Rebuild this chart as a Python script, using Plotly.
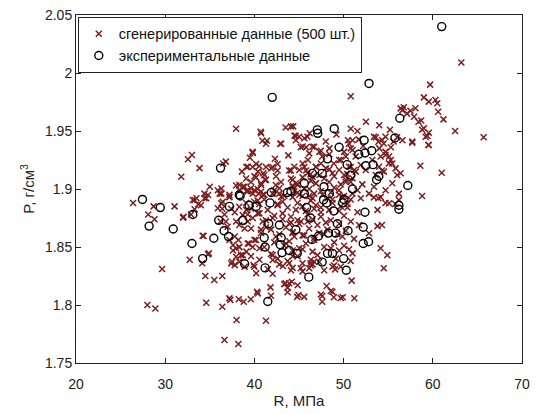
import plotly.graph_objects as go

# Generated data (500 points), R in MPa, P in g/cm3
gen_R = [
    26.4, 28.1, 28.7, 28.8, 31.05, 32.05, 32.9, 33.3, 33.3, 34.0,
    34.6, 32.75, 34.15, 34.9, 34.3, 29.65, 28.0, 28.9, 34.5, 35.5,
    36.4, 34.6, 36.4, 37.3, 38.8, 39.6, 40.3, 41.8, 40.2, 38.0,
    41.3, 36.65, 38.2, 39.9, 37.5, 37.6, 38.3, 38.5, 38.9, 37.8,
    38.2, 42.05, 42.05, 43.5, 44.2, 44.8, 43.2, 43.9, 39.4, 39.8,
    36.2, 35.9, 36.45, 37.2, 36.1, 33.1, 33.7, 34.4, 34.8, 35.0,
    32.0, 34.2, 34.8, 37.2, 38.25, 31.8, 32.55, 33.0, 33.85, 36.8,
    36.5, 37.95, 39.1, 40.75, 40.9, 41.4, 43.0, 43.5, 44.1, 44.65,
    63.2, 50.8, 59.7, 59.0, 59.55, 60.3, 60.5, 60.6, 61.2, 62.5,
    65.7, 59.5, 59.2, 58.8, 59.55, 58.7, 57.9, 58.05, 56.75, 56.6,
    57.1, 57.5, 57.7, 58.6, 61.0, 58.8, 56.2, 52.5, 54.0, 55.2,
    50.8, 51.55, 44.35, 45.0, 45.95, 46.5, 44.65, 50.5, 51.7, 53.4,
    53.9, 54.5, 54.7, 56.0, 56.6, 54.7, 54.15, 55.1, 55.45, 47.3,
    48.4, 47.6, 46.15, 45.4, 49.5, 50.25, 51.0, 51.35, 56.2, 55.8,
    53.8, 54.7, 55.1, 53.9, 53.4, 53.8, 54.3, 52.85, 54.15, 54.9,
    54.5, 51.0, 50.9, 51.2, 49.9, 48.9, 48.75, 48.1, 47.6, 47.6,
    44.95, 43.9, 44.1, 45.2, 46.15, 46.3, 46.7, 48.75, 49.05, 40.7,
    41.3, 42.9, 44.5, 45.6, 45.2, 45.8, 46.7, 39.8, 47.45, 48.4,
    50.05, 50.8, 39.25, 39.8, 40.55, 41.3, 41.9, 42.6, 44.1, 45.6,
    45.8, 46.3, 46.9, 47.3, 48.4, 48.9, 49.7, 50.4, 50.8, 40.0,
    41.1, 40.4, 56.4, 58.4, 59.0, 59.4, 59.55, 53.6, 54.3, 55.6,
    57.7, 51.0, 50.6, 54.0, 55.3, 54.7, 55.3, 56.0, 53.6, 54.3,
    51.2, 51.0, 39.8, 40.2, 41.0, 41.2, 42.05, 42.6, 43.9, 44.3,
    44.65, 38.3, 38.9, 39.25, 39.6, 40.0, 40.5, 40.75, 40.75, 41.1,
    42.4, 42.8, 43.0, 42.05, 44.3, 44.85, 37.2, 36.3, 34.4, 33.5,
    39.07, 39.62, 40.18, 40.74, 41.3, 42.42, 42.98, 44.09, 44.84, 45.4, 46.33, 46.89, 47.82, 48.38, 48.94, 49.68, 50.24, 50.8,
    39.25, 39.81, 40.37, 40.93, 42.23, 42.79, 43.35, 44.47, 45.03, 46.14, 46.7, 48.56, 49.49, 50.05,
    39.99, 40.56, 41.11, 42.6, 43.16, 43.72, 44.84, 45.4, 46.33, 46.89, 47.45, 48.75, 49.68, 50.43,
    39.25, 39.81, 40.37, 41.3, 42.23, 43.16, 44.09, 45.21, 45.96, 46.52, 47.45, 48.56, 50.05,
    39.62, 40.74, 41.86, 42.79, 43.54, 44.28, 45.4, 46.14, 47.26, 48.19, 49.31, 50.24,
    39.25, 40.0, 41.11, 42.23, 43.35, 43.91, 45.03, 45.77, 46.7, 47.82, 48.94, 50.05,
    39.62, 40.56, 42.05, 42.6, 43.72, 44.84, 46.33, 47.07, 49.12, 50.8,
    39.99, 41.49, 42.79, 44.28, 45.4, 46.33, 47.82, 49.68,
    43.35, 43.72, 44.84,
    40.37, 41.86, 43.72, 45.58, 47.45, 48.56, 49.68,
    35.9, 36.3, 37.2, 37.95, 38.3, 38.7, 39.1, 36.3, 36.4, 36.65,
    37.4, 37.8, 38.3, 38.7, 39.1, 36.8, 37.0, 37.95, 38.3, 38.9, 39.25,
    37.2, 37.6, 37.95, 38.3, 38.7, 39.1, 37.95, 38.3, 37.4, 37.8,
    44.47, 45.03, 45.4, 45.96, 46.52, 46.89, 47.45, 48.01, 48.75, 49.5, 50.06,
    50.61, 51.36, 51.92, 52.48, 53.22, 53.97, 54.52, 55.08, 55.83, 56.39,
    44.28, 44.84, 45.59, 46.14, 46.89, 47.45, 48.19, 48.94, 49.5,
    50.24, 50.8, 51.55, 52.1, 52.85, 53.41, 54.15, 54.71, 55.46,
    44.28, 45.4, 46.52, 47.63, 48.75, 49.87, 50.99, 51.92,
    44.65, 45.77, 46.7, 47.45, 48.38, 49.5, 50.43, 51.55,
    44.1, 45.03, 45.96, 47.07, 48.01, 49.5, 50.8, 51.73,
    44.47, 45.59, 46.7, 47.82, 49.87, 51.17,
    44.28, 45.4, 46.52, 48.56, 49.5, 50.61,
    45.4, 46.52, 47.26, 48.94,
    39.07, 39.62, 40.37, 40.56, 40.93, 41.49, 42.05, 42.6, 43.16, 43.91,
    44.28, 44.84, 40.18, 40.74, 41.3, 42.42, 43.54, 44.28, 41.86, 40.56,
    38.6, 39.5, 42.3, 43.8, 46.0, 48.0, 49.2, 52.2, 46.2,
]
gen_P = [
    1.888, 1.878, 1.885, 1.874, 1.885, 1.876, 1.878, 1.8825, 1.8905, 1.886,
    1.892, 1.839, 1.836, 1.8445, 1.8595, 1.831, 1.800, 1.797, 1.825, 1.8216,
    1.825, 1.802, 1.7985, 1.8043, 1.8028, 1.805, 1.8115, 1.8152, 1.8273, 1.787,
    1.7865, 1.7698, 1.7664, 1.8345, 1.8373, 1.847, 1.850, 1.843, 1.833, 1.859,
    1.856, 1.8388, 1.827, 1.8187, 1.820, 1.807, 1.8336, 1.836, 1.853, 1.850,
    1.872, 1.8834, 1.889, 1.8934, 1.896, 1.8905, 1.8868, 1.892, 1.8948, 1.902,
    1.8753, 1.8597, 1.8437, 1.8057, 1.805, 1.9106, 1.9256, 1.9293, 1.918, 1.9236,
    1.922, 1.952, 1.919, 1.948, 1.9416, 1.9416, 1.939, 1.953, 1.954, 1.9457,
    2.009, 1.980, 1.990, 1.979, 1.9753, 1.9767, 1.9739, 1.9666, 1.960, 1.950,
    1.9446, 1.938, 1.945, 1.951, 1.9485, 1.959, 1.9623, 1.9696, 1.9704, 1.968,
    1.965, 1.9675, 1.940, 1.920, 1.914, 1.894, 1.896, 1.958, 1.955, 1.951,
    1.952, 1.950, 1.954, 1.945, 1.945, 1.9365, 1.942, 1.942, 1.9428, 1.945,
    1.9408, 1.9393, 1.945, 1.9446, 1.942, 1.932, 1.928, 1.928, 1.922, 1.932,
    1.935, 1.928, 1.9307, 1.9366, 1.925, 1.928, 1.9336, 1.928, 1.8905, 1.887,
    1.882, 1.888, 1.8877, 1.892, 1.8928, 1.868, 1.869, 1.8618, 1.8489, 1.843,
    1.8316, 1.8445, 1.821, 1.8058, 1.8066, 1.8066, 1.8115, 1.8164, 1.8078, 1.8028,
    1.8086, 1.8187, 1.830, 1.8316, 1.8316, 1.836, 1.8373, 1.833, 1.8307, 1.9494,
    1.939, 1.939, 1.946, 1.9437, 1.936, 1.936, 1.9365, 1.932, 1.933, 1.930,
    1.932, 1.935, 1.9192, 1.919, 1.9198, 1.919, 1.9178, 1.916, 1.916, 1.919,
    1.916, 1.913, 1.919, 1.912, 1.917, 1.922, 1.925, 1.913, 1.919, 1.911,
    1.912, 1.915, 1.9695, 1.958, 1.9523, 1.9457, 1.938, 1.9445, 1.9422, 1.941,
    1.941, 1.942, 1.939, 1.935, 1.936, 1.9293, 1.925, 1.912, 1.912, 1.916,
    1.9164, 1.9092, 1.931, 1.9216, 1.9135, 1.9078, 1.919, 1.9216, 1.916, 1.908,
    1.905, 1.9034, 1.902, 1.899, 1.9006, 1.899, 1.896, 1.9034, 1.8977, 1.895,
    1.9034, 1.9006, 1.8934, 1.896, 1.902, 1.9034, 1.895, 1.896, 1.896, 1.892,
    1.909, 1.906, 1.910, 1.905, 1.908, 1.911, 1.906, 1.909, 1.904, 1.910, 1.907, 1.905, 1.909, 1.906, 1.911, 1.904, 1.908, 1.906,
    1.898, 1.896, 1.900, 1.895, 1.899, 1.896, 1.894, 1.898, 1.895, 1.900, 1.896, 1.897, 1.899, 1.894,
    1.889, 1.887, 1.891, 1.886, 1.889, 1.884, 1.888, 1.885, 1.890, 1.886, 1.884, 1.888, 1.885, 1.887,
    1.878, 1.875, 1.879, 1.873, 1.877, 1.874, 1.876, 1.872, 1.878, 1.874, 1.876, 1.873, 1.877,
    1.866, 1.862, 1.865, 1.861, 1.867, 1.863, 1.860, 1.866, 1.862, 1.865, 1.861, 1.864,
    1.853, 1.856, 1.850, 1.854, 1.851, 1.855, 1.849, 1.853, 1.856, 1.850, 1.854, 1.851,
    1.842, 1.839, 1.843, 1.840, 1.838, 1.842, 1.839, 1.843, 1.840, 1.838,
    1.833, 1.831, 1.835, 1.832, 1.829, 1.834, 1.830, 1.833,
    1.818, 1.815, 1.817,
    1.810, 1.808, 1.811, 1.807, 1.809, 1.812, 1.806,
    1.899, 1.9005, 1.893, 1.903, 1.899, 1.902, 1.898, 1.8876, 1.883, 1.878,
    1.883, 1.880, 1.8847, 1.8775, 1.882, 1.872, 1.8675, 1.872, 1.869, 1.866, 1.872,
    1.856, 1.8517, 1.849, 1.850, 1.843, 1.846, 1.8416, 1.8373, 1.8358, 1.8344,
    1.9192, 1.9164, 1.922, 1.9135, 1.9106, 1.9192, 1.922, 1.9178, 1.9135, 1.9164, 1.912,
    1.9192, 1.915, 1.9207, 1.9164, 1.925, 1.9192, 1.915, 1.9221, 1.9178, 1.9135,
    1.903, 1.897, 1.900, 1.894, 1.905, 1.898, 1.892, 1.901, 1.895,
    1.906, 1.891, 1.899, 1.904, 1.896, 1.902, 1.893, 1.899, 1.905,
    1.893, 1.894, 1.892, 1.895, 1.891, 1.893, 1.896, 1.892,
    1.882, 1.881, 1.883, 1.880, 1.882, 1.881, 1.884, 1.880,
    1.871, 1.870, 1.872, 1.869, 1.871, 1.870, 1.872, 1.869,
    1.859, 1.860, 1.858, 1.861, 1.859, 1.857,
    1.847, 1.848, 1.846, 1.849, 1.847, 1.848,
    1.836, 1.835, 1.837, 1.834,
    1.888, 1.883, 1.890, 1.879, 1.872, 1.882, 1.875, 1.887, 1.879, 1.870,
    1.862, 1.873, 1.856, 1.865, 1.867, 1.859, 1.853, 1.842, 1.844, 1.849,
    1.915, 1.927, 1.926, 1.929, 1.925, 1.941, 1.947, 1.937, 1.948,
]

# Experimental data
exp_R = [
    61.0, 52.85, 42.0, 47.05, 47.1, 48.95, 49.5, 56.3, 52.3, 55.75,
    51.7, 52.4, 53.15, 48.2, 52.5, 53.3, 50.4, 50.8, 47.6, 46.5,
    53.95, 53.7, 57.2, 45.6, 47.8, 48.4, 51.0, 44.1, 45.6, 36.2,
    38.3, 41.9, 43.7, 27.45, 29.45, 28.2, 30.9, 33.0, 33.1, 34.2,
    35.45, 36.0, 36.6, 37.1, 37.2, 38.9, 38.7, 39.4, 40.2, 41.1,
    41.2, 41.2, 41.5, 41.6, 41.75, 42.8, 43.0, 43.1, 43.9, 44.65,
    44.8, 45.85, 46.3, 46.45, 47.2, 46.1, 47.6, 48.1, 48.2, 48.3,
    48.75, 49.1, 49.3, 49.9, 50.0, 50.3, 50.5, 52.2, 52.4, 52.2,
    52.8, 56.2, 56.2, 38.4, 47.75, 48.9, 50.05, 42.9,
]
exp_P = [
    2.040, 1.991, 1.979, 1.951, 1.948, 1.952, 1.936, 1.961, 1.942, 1.944,
    1.930, 1.931, 1.933, 1.926, 1.920, 1.921, 1.921, 1.912, 1.9135, 1.9135,
    1.911, 1.908, 1.903, 1.905, 1.902, 1.896, 1.900, 1.898, 1.896, 1.918,
    1.895, 1.897, 1.897, 1.891, 1.884, 1.868, 1.8655, 1.853, 1.878, 1.840,
    1.8575, 1.873, 1.864, 1.859, 1.885, 1.8355, 1.873, 1.886, 1.885, 1.858,
    1.850, 1.832, 1.803, 1.870, 1.888, 1.869, 1.858, 1.845, 1.847, 1.865,
    1.8445, 1.884, 1.875, 1.8565, 1.8595, 1.824, 1.837, 1.888, 1.8445, 1.862,
    1.8445, 1.862, 1.870, 1.888, 1.840, 1.830, 1.864, 1.867, 1.880, 1.853,
    1.8545, 1.886, 1.8825, 1.894, 1.8905, 1.881, 1.891, 1.852,
]

x_ticks = [20, 30, 40, 50, 60, 70]
y_ticks = [1.75, 1.8, 1.85, 1.9, 1.95, 2.0, 2.05]
y_tick_text = ["1.75", "1.8", "1.85", "1.9", "1.95", "2", "2.05"]

FONT = "Liberation Sans, Arial, sans-serif"

fig = go.Figure()
fig.add_trace(go.Scatter(
    x=gen_R, y=gen_P, mode="markers",
    name="сгенерированные данные (500 шт.)",
    marker=dict(symbol="x-thin-open", size=6, color="#7a1e1e",
                line=dict(color="#7a1e1e", width=1.5)),
))
fig.add_trace(go.Scatter(
    x=exp_R, y=exp_P, mode="markers",
    name="экспериментальные данные",
    marker=dict(symbol="circle-open", size=8, color="black",
                line=dict(color="black", width=1.4)),
))

axis_common = dict(
    showline=True, linecolor="#222", linewidth=1, mirror="ticks",
    ticks="inside", ticklen=5, tickcolor="#222", showgrid=False, zeroline=False,
    automargin=False,
    tickfont=dict(family=FONT, size=14, color="#222"),
)
fig.update_xaxes(range=[20, 70], tickvals=x_ticks, ticklabelstandoff=8,
                 title=dict(text="R, МПа", standoff=4,
                            font=dict(family=FONT, size=15, color="#222")),
                 **axis_common)
fig.update_yaxes(range=[1.75, 2.05], tickvals=y_ticks, ticktext=y_tick_text,
                 title=dict(text="P, г/см<sup>3</sup>", standoff=6,
                            font=dict(family=FONT, size=15, color="#222")),
                 **axis_common)

fig.update_layout(
    width=538, height=414,
    margin=dict(l=76, r=16, t=15, b=51),
    paper_bgcolor="white", plot_bgcolor="white",
    showlegend=True,
    legend=dict(x=0.004, y=0.995, xanchor="left", yanchor="top",
                bgcolor="white", bordercolor="#222", borderwidth=1,
                font=dict(family=FONT, size=14.5, color="#111"),
                tracegroupgap=0, itemsizing="trace"),
)

fig.write_html("out.html", config={"displayModeBar": False},
               post_script="document.body.style.margin='0';")
